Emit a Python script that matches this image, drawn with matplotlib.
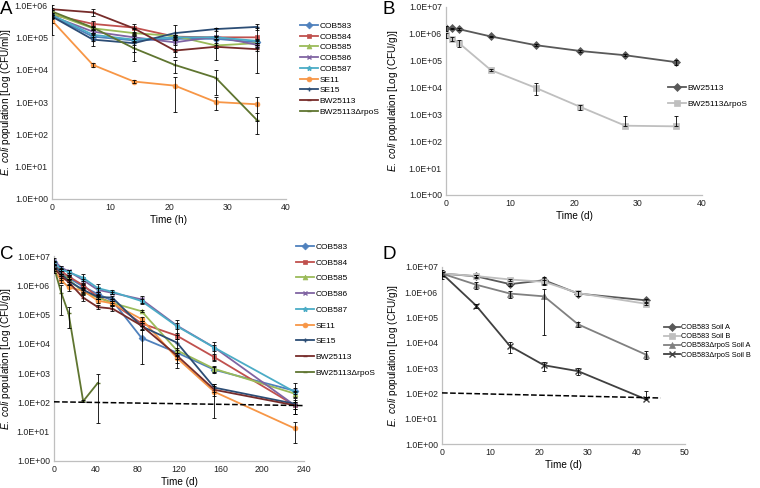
import matplotlib
matplotlib.use('Agg')
import matplotlib.pyplot as plt
import numpy as np

plt.rcParams['font.family'] = ['Liberation Sans', 'DejaVu Sans']
plt.rcParams['mathtext.fontset'] = 'custom'
plt.rcParams['mathtext.it'] = 'Liberation Sans:italic'
plt.rcParams['mathtext.rm'] = 'Liberation Sans'

# ---- panel A: liquid culture, hours
a_time = [0, 7, 14, 21, 28, 35]
a_labels = ['COB583', 'COB584', 'COB585', 'COB586', 'COB587', 'SE11', 'SE15', 'BW25113', 'BW25113\u0394rpoS']
a_values = [
    [4.5e5, 1.05e5, 8e4, 9e4, 9e4, 7e4],
    [5e5, 2.6e5, 2e5, 1.05e5, 1e5, 1e5],
    [5.5e5, 1.9e5, 1.35e5, 1.1e5, 5.6e4, 6.6e4],
    [4.5e5, 1.5e5, 1e5, 7e4, 1.05e5, 5.9e4],
    [4.9e5, 1.2e5, 8.5e4, 1e5, 1e5, 7.8e4],
    [3.3e5, 1.4e4, 4.3e3, 3.2e3, 1e3, 8.5e2],
    [4.4e5, 8.5e4, 6.6e4, 1.35e5, 1.8e5, 2.1e5],
    [7.4e5, 5.9e5, 1.9e5, 3.9e4, 5.1e4, 4.3e4],
    [6.3e5, 2e5, 4.6e4, 1.4e4, 5.6e3, 2.8e2],
]
a_sd = [
    [5e4, 3e4, 1e4, 1e4, 1e4, 1e4],
    [5e4, 5e4, 6e4, 1e4, 1e4, 9.2e4],
    [4.3e5, 2e4, 1e4, 1e4, 1e4, 1e4],
    [5e4, 2e4, 1e4, 1e4, 8.5e4, 1e4],
    [5e4, 2e4, 1e4, 1e4, 1e4, 1e4],
    [5e4, 2e3, 5e2, 2.7e3, 4.5e2, 6e2],
    [5e4, 3e4, 4.8e4, 1.1e5, 2e4, 4e4],
    [5e4, 1.4e5, 1e4, 5e3, 5e3, 5e3],
    [5e4, 2e4, 1e4, 6e3, 4e3, 1.8e2],
]

# ---- panel B: soil, days
b_time = [0, 1, 2, 7, 14, 21, 28, 36]
b_labels = ['BW25113', 'BW25113\u0394rpoS']
b_values = [
    [1.6e6, 1.6e6, 1.5e6, 8e5, 3.8e5, 2.3e5, 1.6e5, 8.8e4],
    [9e5, 6.5e5, 4.6e5, 4.5e4, 9.8e3, 1.9e3, 3.8e2, 3.6e2],
]
b_sd = [
    [3e5, 1e5, 1e5, 5e4, 3e4, 2e4, 1.5e4, 2e4],
    [2e5, 1e5, 1.3e5, 5e3, 4.5e3, 4e2, 5.2e2, 5.4e2],
]

# ---- panel C: soil, days
c_time = [0, 7, 14, 28, 42, 56, 84, 118, 154, 231]
c_time_rpos = [0, 7, 14, 28, 42]
c_labels = a_labels
c_values = [
    [6e6, 3e6, 1.8e6, 9e5, 5e5, 3e5, 1.6e4, 5e3, 1.3e3, 2.5e2],
    [5e6, 3e6, 2e6, 1e6, 4e5, 2.5e5, 5e4, 1.9e4, 3.5e3, 8e1],
    [4.5e6, 2.5e6, 1.6e6, 6e5, 3.8e5, 2.5e5, 1.3e5, 6e3, 1.4e3, 2e2],
    [7e6, 4e6, 3e6, 1.5e6, 7e5, 5.5e5, 3.3e5, 4.2e4, 7.5e3, 8e1],
    [6e6, 3.5e6, 2.8e6, 1.8e6, 8e5, 6e5, 2.9e5, 4e4, 7.4e3, 2.3e2],
    [3.2e6, 1.5e6, 8.5e5, 6.5e5, 3e5, 2.4e5, 7e4, 3.3e3, 2.3e2, 1.3e1],
    [5e6, 2.5e6, 1.4e6, 7e5, 4e5, 3.8e5, 4e4, 1.1e4, 3.2e2, 9e1],
    [4e6, 2e6, 1.3e6, 3.8e5, 1.8e5, 1.6e5, 4.2e4, 4e3, 2.7e2, 8e1],
    [4e6, 5.5e5, 1.1e5, 1.1e2, 4.6e2],
]
c_sd = [
    [1e6, 5e5, 3e5, 1e5, 1e5, 5e4, 1.4e4, 1e3, 3e2, 5e1],
    [1e6, 5e5, 3e5, 1e5, 5e4, 3e4, 1e4, 4e3, 1e3, 2e1],
    [1e6, 5e5, 3e5, 1e5, 5e4, 3e4, 1e4, 1e3, 3e2, 5e1],
    [1.5e6, 5e5, 3e5, 1e5, 1e5, 5e4, 1e5, 1e4, 2e3, 2e1],
    [1e6, 5e5, 5e5, 6e5, 3e5, 1e5, 5e4, 2.5e4, 4.5e3, 2.3e2],
    [5e5, 3e5, 2e5, 1e5, 5e4, 4e4, 1e4, 1e3, 2e2, 9],
    [1e6, 5e5, 3e5, 1e5, 5e4, 5e4, 1e4, 9.5e3, 1e2, 5e1],
    [1e6, 5e5, 3e5, 8e4, 3e4, 3e4, 1e4, 1e3, 1e2, 4e1],
    [1e6, 4.5e5, 7.5e4, 1e1, 4.4e2],
]
c_limit_x = [0, 240]
c_limit_y = [105, 78]

# ---- panel D: two soils, days
d_time = [0, 7, 14, 21, 28, 42]
d_labels = ['COB583 Soil A', 'COB583 Soil B', 'COB583\u0394rpoS Soil A', 'COB583\u0394rpoS Soil B']
d_values = [
    [5.5e6, 4.3e6, 2.1e6, 3e6, 8.9e5, 4.8e5],
    [5.5e6, 4.4e6, 3.2e6, 2.6e6, 9.3e5, 3.5e5],
    [5.5e6, 2e6, 8.9e5, 6.9e5, 5.4e4, 3.4e3],
    [5.5e6, 3e5, 7.4e3, 1.3e3, 7.6e2, 5.8e1],
]
d_sd = [
    [2e6, 5e5, 3e5, 1e6, 2e5, 5e4],
    [1e6, 5e5, 3e5, 5e5, 2e5, 3e4],
    [1e6, 6e5, 2.8e5, 6.7e5, 1.1e4, 1.2e3],
    [1e6, 5e4, 3.5e3, 5e2, 2.3e2, 6.5e1],
]
d_limit_x = [0, 45]
d_limit_y = [105, 66]

excel_colors = ['#4F81BD', '#C0504D', '#9BBB59', '#8064A2', '#4BACC6', '#F79646', '#2C4D75', '#772C2A', '#5F7530']
excel_markers = ['D', 's', '^', 'x', '*', 'o', '+', '_', '_']
gray_colors = ['#595959', '#BFBFBF', '#808080', '#404040']
gray_markers = ['D', 's', '^', 'x']

W, H = 760, 488
fig = plt.figure(figsize=(W / 100, H / 100), dpi=100)


def make_axes(left, right, top, bottom):
    return fig.add_axes([left / W, 1 - bottom / H, (right - left) / W, (bottom - top) / H])


def style_axes(ax, xmax, xstep, top_exp, ylab, xlab, ylab_x):
    ax.set_yscale('log')
    ax.set_ylim(1, 10 ** top_exp)
    ax.set_xlim(0, xmax)
    ax.set_yticks([10 ** k for k in range(top_exp + 1)])
    ax.set_yticklabels(['1.0E+%02d' % k for k in range(top_exp + 1)])
    ax.minorticks_off()
    ax.set_xticks(np.arange(0, xmax + 1, xstep))
    ax.tick_params(length=0, labelsize=6.3, colors='#222222', pad=3)
    for s in ['top', 'right']:
        ax.spines[s].set_visible(False)
    for s in ['left', 'bottom']:
        ax.spines[s].set_color('#BFBFBF')
        ax.spines[s].set_linewidth(0.9)
    ax.set_xlabel(xlab, fontsize=7.2, labelpad=2)
    ax.set_ylabel(ylab, fontsize=7.2)
    ax.yaxis.set_label_coords(ylab_x, 0.5)


def draw_series(ax, t, v, sd, color, marker, label, ms=3.5):
    t = np.array(t, dtype=float)
    v = np.array(v, dtype=float)
    sd = np.array(sd, dtype=float)
    lower = np.where(sd < v, sd, 0)
    ax.errorbar(t, v, yerr=[lower, sd], fmt='none', ecolor='black', elinewidth=0.6,
                capsize=1.6, capthick=0.6, zorder=3)
    mew = 1.0 if marker in ['x', '+', '_', '*'] else 0.5
    ax.plot(t, v, color=color, marker=marker, ms=ms, mew=mew, lw=1.3, label=label, zorder=2)


def add_legend(ax, x_px, y_px, spacing, size=6.0):
    ax.legend(loc='upper left', bbox_to_anchor=(x_px / W, 1 - y_px / H), bbox_transform=fig.transFigure,
              frameon=False, fontsize=size, handlelength=2.2, handletextpad=0.15,
              labelspacing=spacing, borderaxespad=0, borderpad=0)


ylab_ml = r'$\it{E.\ coli}$ population [Log (CFU/ml)]'
ylab_g = r'$\it{E.\ coli}$ population [Log (CFU/g)]'

# A
axA = make_axes(52, 286, 5, 199)
for i in range(len(a_labels)):
    draw_series(axA, a_time, a_values[i], a_sd[i], excel_colors[i], excel_markers[i], a_labels[i])
style_axes(axA, 40, 10, 6, ylab_ml, 'Time (h)', -0.165)
add_legend(axA, 300, 22, 0.35)

# B
axB = make_axes(446, 702, 7, 195)
for i in range(len(b_labels)):
    draw_series(axB, b_time, b_values[i], b_sd[i], gray_colors[i], gray_markers[i], b_labels[i], ms=4)
style_axes(axB, 40, 10, 7, ylab_g, 'Time (d)', -0.18)
add_legend(axB, 668, 84, 0.95)

# C
axC = make_axes(54, 304, 256, 461)
for i in range(len(c_labels)):
    t = c_time_rpos if i == len(c_labels) - 1 else c_time
    draw_series(axC, t, c_values[i], c_sd[i], excel_colors[i], excel_markers[i], c_labels[i])
axC.plot(c_limit_x, c_limit_y, color='black', ls='--', lw=1.1, zorder=4)
style_axes(axC, 240, 40, 7, ylab_g, 'Time (d)', -0.163)
add_legend(axC, 296, 243, 0.95)

# D
axD = make_axes(442, 685, 267, 444)
for i in range(len(d_labels)):
    draw_series(axD, d_time, d_values[i], d_sd[i], gray_colors[i], gray_markers[i], d_labels[i], ms=4)
axD.plot(d_limit_x, d_limit_y, color='black', ls='--', lw=1.1, zorder=4)
style_axes(axD, 50, 10, 7, ylab_g, 'Time (d)', -0.173)
add_legend(axD, 664, 324, 0.27, size=5.3)

# panel letters
for txt, x, y in [('A', 0, 1), ('B', 383, 1), ('C', 0, 246), ('D', 383, 246)]:
    fig.text(x / W, 1 - y / H, txt, fontsize=13.5, va='top', ha='left')

fig.savefig('out.png', dpi=100)
